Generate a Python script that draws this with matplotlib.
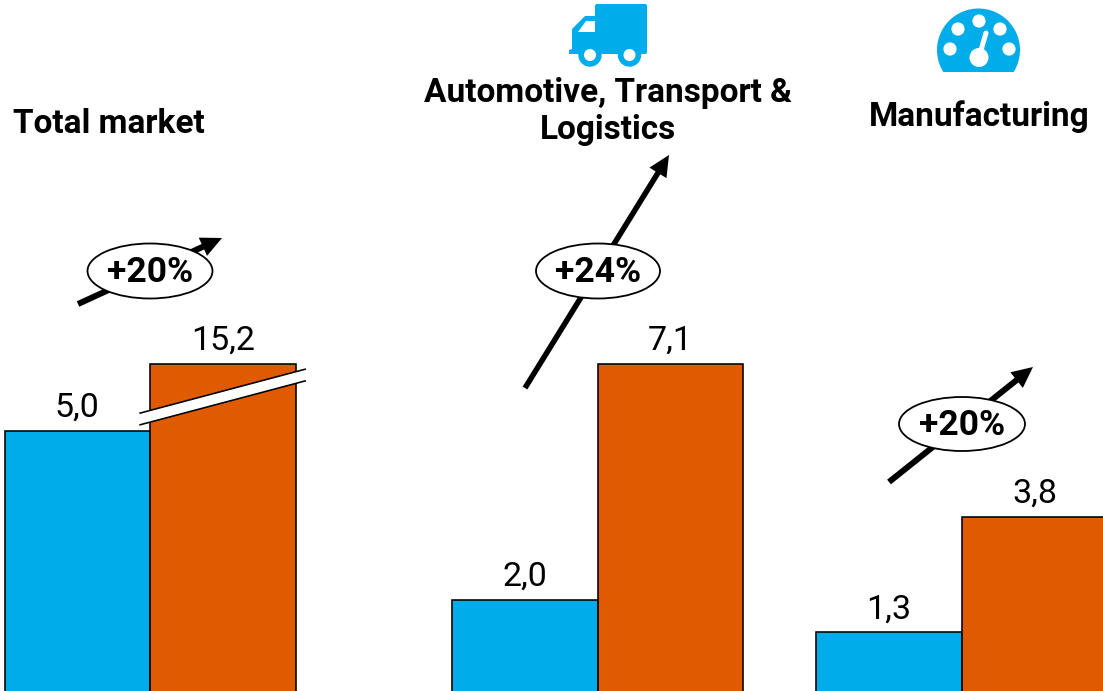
import numpy as np
import matplotlib
matplotlib.use("Agg")
import matplotlib.pyplot as plt
from matplotlib.patches import Ellipse, Circle, Polygon, Rectangle, FancyArrowPatch, FancyBboxPatch

# ---- data ----
groups = ["Total market", "Automotive, Transport &\nLogistics", "Manufacturing"]
series_start = [5.0, 2.0, 1.3]
series_end = [15.2, 7.1, 3.8]
growth_labels = ["+20%", "+24%", "+20%"]
decimal_sep = ","

BLUE = "#00ADEA"
ORANGE = "#E05A00"
FONT = ["Roboto", "DejaVu Sans"]
PX = 0.72  # one pixel in points at dpi 100
W, H = 1103, 691
BASE = 1.5  # bar baseline sits just below the figure edge
UNIT = 46.3

fig = plt.figure(figsize=(W / 100, H / 100), dpi=100)
fig.patch.set_facecolor("white")


def fmt(v):
    return f"{v:.1f}".replace(".", decimal_sep)


def make_axes():
    ax = fig.add_axes([0, 0, 1, 1])
    ax.patch.set_alpha(0)
    ax.axis("off")
    ax.set_xlim(0, W)
    return ax


def draw_pair(ax, left, width, a, b):
    for x, v, c in ((left, a, BLUE), (left + width, b, ORANGE)):
        ax.bar(x, v, width=width, align="edge", color=c, edgecolor="black",
               linewidth=1.6 * PX)
        ax.annotate(fmt(v), (x + width / 2, v), xytext=(0, 14 * PX),
                    textcoords="offset points", ha="center", va="baseline",
                    fontsize=24.5, family=FONT, color="black")


# broken value axis for the total market pair
ax_total = make_axes()
brk_v = [0, 5.0, 15.2, 40]
brk_px = [0, 261.5, 328.5, H + BASE]
ax_total.set_yscale("function", functions=(
    lambda y: np.interp(y, brk_v, brk_px),
    lambda p: np.interp(p, brk_px, brk_v)))
ax_total.set_ylim(BASE * 5.0 / 261.5, 40)
draw_pair(ax_total, 4.5, 145.5, series_start[0], series_end[0])

# common linear axis for the two segments
ax_seg = make_axes()
ax_seg.set_ylim(BASE / UNIT, (H + BASE) / UNIT)
draw_pair(ax_seg, 452, 145.5, series_start[1], series_end[1])
draw_pair(ax_seg, 816, 146, series_start[2], series_end[2])

# overlay in pixel coordinates for annotation shapes
ov = make_axes()
ov.set_ylim(H, 0)

# axis-break mark
ov.add_patch(Polygon([(139.3, 413.3), (306, 369), (306, 380.7), (139.3, 425)],
                     closed=True, facecolor="white", edgecolor="none", zorder=3))
for pts in (((139.3, 306), (413.3, 369)), ((139.3, 306), (425, 380.7))):
    ov.plot(*pts, color="black", lw=1.6 * PX, zorder=4, solid_capstyle="butt")

# growth arrows and ovals
arrows = [((78, 304), (222, 238)), ((525, 388), (669, 155)), ((889, 482), (1033, 367))]
shaft_px = [6, 5.5, 6]
ovals = [(150, 271, 125, 55), (598, 271, 124, 55), (962, 424, 126, 54)]
for (st, en), sw, (cx, cy, w, h), lab in zip(arrows, shaft_px, ovals, growth_labels):
    style = f"simple,head_length={21 * PX},head_width={20 * PX},tail_width={sw * PX}"
    ov.add_patch(FancyArrowPatch(st, en, arrowstyle=style, mutation_scale=1,
                                 facecolor="black", edgecolor="none", lw=0,
                                 shrinkA=0, shrinkB=0, zorder=5))
    ov.add_patch(Ellipse((cx, cy), w, h, facecolor="white", edgecolor="black",
                         lw=1.8 * PX, zorder=6))
    ov.text(cx, cy + 1, lab, ha="center", va="center", fontsize=25.5, fontweight="bold",
            family=FONT, color="black", zorder=7)

# titles
title_pos = [(109, 124), (608, 111), (979, 117)]
for (x, y), t in zip(title_pos, groups):
    ov.text(x, y, t, ha="center", va="center", fontsize=24, fontweight="bold",
            family=FONT, color="black", linespacing=1.2)

# truck icon
ov.add_patch(FancyBboxPatch((597, 6), 48, 46, boxstyle="round,pad=2,rounding_size=2",
                            facecolor=BLUE, edgecolor="none"))
ov.add_patch(Polygon([(572, 29), (585, 16), (597, 16), (597, 54), (569, 54), (569, 50), (572, 49)],
                     closed=True, facecolor=BLUE, edgecolor="none"))
ov.add_patch(Polygon([(578, 32), (586, 21), (595, 21), (595, 32)], closed=True,
                     facecolor="white", edgecolor="none"))
for cx in (590, 629.5):
    ov.add_patch(Circle((cx, 55), 11.7, facecolor=BLUE, edgecolor="none"))
    ov.add_patch(Circle((cx, 55), 6, facecolor="white", edgecolor="none"))

# gauge icon
dial = Circle((978.5, 50), 41.5, facecolor=BLUE, edgecolor="none")
ov.add_patch(dial)
dial.set_clip_path(Rectangle((930, 0), 100, 72, transform=ov.transData))
for cx, cy in ((979, 21), (958, 29), (1000, 29), (950, 49), (1009, 49)):
    ov.add_patch(Circle((cx, cy), 6.6, facecolor="white", edgecolor="none"))
ov.add_patch(Circle((979, 57.5), 9.5, facecolor="white", edgecolor="none"))
ov.plot([981, 986], [50, 33], color="white", lw=5 * PX, solid_capstyle="round")

fig.savefig("out.png", dpi=100)
